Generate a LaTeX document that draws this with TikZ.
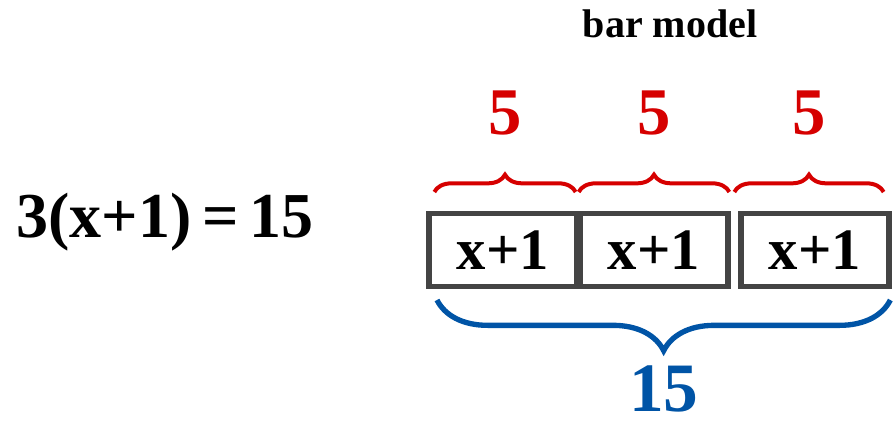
\documentclass[tikz,border=0pt]{standalone}
\usepackage{fontspec}
\setmainfont{Liberation Serif}
\usetikzlibrary{decorations.pathreplacing}
\definecolor{barred}{RGB}{214,0,0}
\definecolor{barblue}{RGB}{0,84,166}
\definecolor{bargray}{RGB}{68,68,68}
\tikzset{
  cell/.style={draw=bargray, line width=4pt, minimum width=111pt, minimum height=55pt, inner sep=0pt, font=\fontsize{44}{50}\selectfont\bfseries},
  redbrace/.style={draw=barred, line width=3pt, decorate, decoration={brace, amplitude=13pt}},
  bluebrace/.style={draw=barblue, line width=4pt, decorate, decoration={brace, mirror, amplitude=38pt}},
}
\begin{document}
\begin{tikzpicture}[x=0.75pt,y=0.75pt,yscale=-1,xscale=1]
\useasboundingbox (0,0) rectangle (896,424);
%Title
\node[font=\fontsize{30}{34}\selectfont\bfseries] (title) at (670,24) {bar model};
%Equation
\node[font=\fontsize{48}{54}\selectfont\bfseries] (eqn) at (165,222) {3(x+1)\,=\,15};
%Cells
\node[cell] (c1) at (503,250) {x+1};
\node[cell] (c2) at (654,250) {x+1};
\node[cell] (c3) at (815,250) {x+1};
%Red braces and labels
\draw[redbrace] ([xshift=6pt,yshift=-14pt]c1.north west) -- ([xshift=-3pt,yshift=-14pt]c1.north east) node[midway, above=38pt, text=barred, font=\fontsize{50}{56}\selectfont\bfseries] (f1) {5};
\draw[redbrace] ([xshift=1pt,yshift=-14pt]c2.north west) -- ([xshift=-1pt,yshift=-14pt]c2.north east) node[midway, above=38pt, text=barred, font=\fontsize{50}{56}\selectfont\bfseries] (f2) {5};
\draw[redbrace] ([xshift=-3pt,yshift=-14pt]c3.north west) -- ([xshift=-6pt,yshift=-14pt]c3.north east) node[midway, above=38pt, text=barred, font=\fontsize{50}{56}\selectfont\bfseries] (f3) {5};
%Blue brace and total
\draw[bluebrace] ([xshift=8pt,yshift=8pt]c1.south west) -- ([xshift=-1pt,yshift=8pt]c3.south east) node[midway, below=46pt, inner sep=1pt, text=barblue, font=\fontsize{52}{58}\selectfont\bfseries] (total) {15};
\end{tikzpicture}
\end{document}
